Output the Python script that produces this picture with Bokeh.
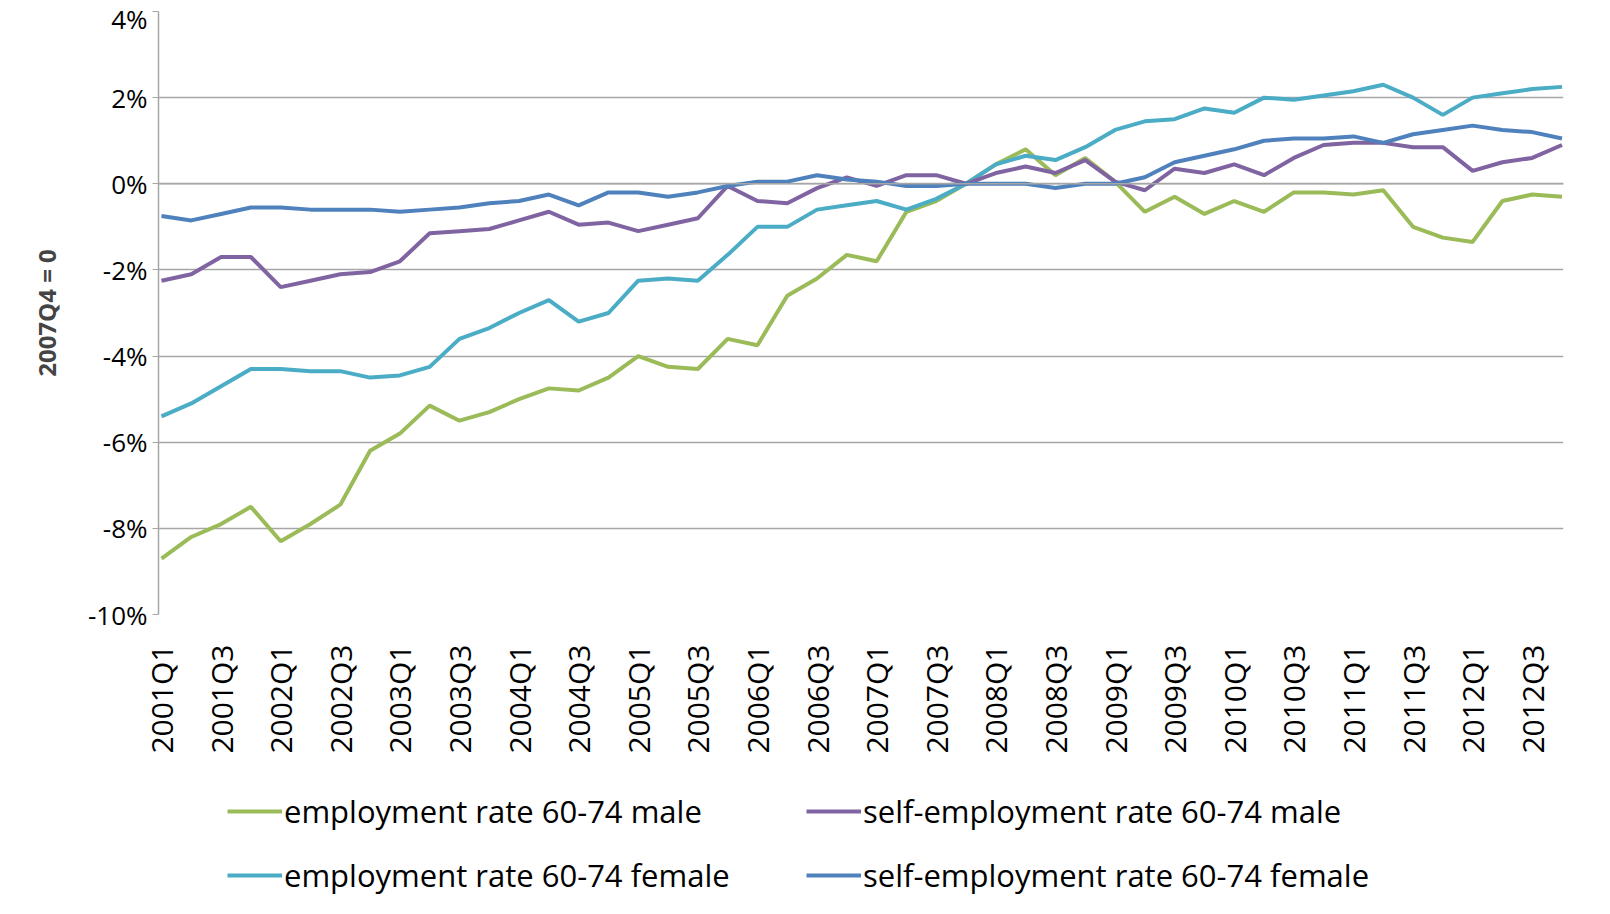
from bokeh.plotting import figure
from bokeh.models import Range1d, FixedTicker, Legend, LegendItem, Span
from bokeh.layouts import column
from bokeh.embed import file_html
from bokeh.resources import INLINE
import math

quarters = [f"{y}Q{q}" for y in range(2001, 2013) for q in range(1, 5)]

emp_male = [-8.7, -8.2, -7.9, -7.5, -8.3, -7.9, -7.45, -6.2, -5.8, -5.15, -5.5, -5.3,
            -5.0, -4.75, -4.8, -4.5, -4.0, -4.25, -4.3, -3.6, -3.75, -2.6, -2.2, -1.65,
            -1.8, -0.65, -0.4, 0.0, 0.45, 0.8, 0.2, 0.6, 0.05, -0.65, -0.3, -0.7,
            -0.4, -0.65, -0.2, -0.2, -0.25, -0.15, -1.0, -1.25, -1.35, -0.4, -0.25, -0.3]
emp_female = [-5.4, -5.1, -4.7, -4.3, -4.3, -4.35, -4.35, -4.5, -4.45, -4.25, -3.6, -3.35,
              -3.0, -2.7, -3.2, -3.0, -2.25, -2.2, -2.25, -1.65, -1.0, -1.0, -0.6, -0.5,
              -0.4, -0.6, -0.35, 0.0, 0.45, 0.65, 0.55, 0.85, 1.25, 1.45, 1.5, 1.75,
              1.65, 2.0, 1.95, 2.05, 2.15, 2.3, 2.0, 1.6, 2.0, 2.1, 2.2, 2.25]
self_male = [-2.25, -2.1, -1.7, -1.7, -2.4, -2.25, -2.1, -2.05, -1.8, -1.15, -1.1, -1.05,
             -0.85, -0.65, -0.95, -0.9, -1.1, -0.95, -0.8, -0.05, -0.4, -0.45, -0.1, 0.15,
             -0.05, 0.2, 0.2, 0.0, 0.25, 0.4, 0.25, 0.55, 0.05, -0.15, 0.35, 0.25,
             0.45, 0.2, 0.6, 0.9, 0.95, 0.95, 0.85, 0.85, 0.3, 0.5, 0.6, 0.9]
self_female = [-0.75, -0.85, -0.7, -0.55, -0.55, -0.6, -0.6, -0.6, -0.65, -0.6, -0.55, -0.45,
               -0.4, -0.25, -0.5, -0.2, -0.2, -0.3, -0.2, -0.05, 0.05, 0.05, 0.2, 0.1,
               0.05, -0.05, -0.05, 0.0, 0.0, 0.0, -0.1, 0.0, 0.0, 0.15, 0.5, 0.65,
               0.8, 1.0, 1.05, 1.05, 1.1, 0.95, 1.15, 1.25, 1.35, 1.25, 1.2, 1.05]

FONT = "Open Sans"
idx = list(range(len(quarters)))

p = figure(frame_width=1405, frame_height=603, output_backend="svg", toolbar_location=None,
           x_range=Range1d(-0.1, 47.05), y_range=Range1d(-10, 4),
           min_border_left=158, min_border_right=20, min_border_top=11, min_border_bottom=0)
p.outline_line_color = None
p.background_fill_color = "white"

p.xgrid.grid_line_color = None
p.ygrid.grid_line_color = "#a6a6a6"
p.ygrid.grid_line_width = 1.5
p.yaxis.ticker = FixedTicker(ticks=[-10, -8, -6, -4, -2, 0, 2, 4])
p.yaxis.major_label_overrides = {v: f"{v}%" for v in [-10, -8, -6, -4, -2, 0, 2, 4]}
p.yaxis.major_label_text_font = FONT
p.yaxis.major_label_text_font_size = "26px"
p.yaxis.major_label_text_color = "black"
p.yaxis.axis_line_color = "#a6a6a6"
p.yaxis.axis_line_width = 1.5
p.yaxis.major_tick_line_color = "#a6a6a6"
p.yaxis.major_tick_in = 0
p.yaxis.major_tick_out = 6
p.yaxis.minor_tick_line_color = None
p.yaxis.axis_label = "2007Q4 = 0"
p.yaxis.axis_label_text_font = FONT
p.yaxis.axis_label_text_font_style = "bold"
p.yaxis.axis_label_text_font_size = "24px"
p.yaxis.axis_label_standoff = 22

p.xaxis.ticker = FixedTicker(ticks=idx[::2])
p.xaxis.major_label_overrides = {i: quarters[i] for i in idx[::2]}
p.xaxis.major_label_orientation = math.pi / 2
p.xaxis.major_label_text_font = FONT
p.xaxis.major_label_text_font_size = "30px"
p.xaxis.major_label_text_color = "black"
p.xaxis.axis_line_color = None
p.xaxis.major_tick_line_color = None
p.xaxis.minor_tick_line_color = None
p.xaxis.major_label_standoff = 24

p.add_layout(Span(location=0, dimension="width", line_color="#a6a6a6", line_width=1.5))

series = [("employment rate 60-74 male", emp_male, "#9bbb59"),
          ("employment rate 60-74 female", emp_female, "#4bacc6"),
          ("self-employment rate 60-74 male", self_male, "#8064a2"),
          ("self-employment rate 60-74 female", self_female, "#4f81bd")]

lg = figure(width=1583, height=140, output_backend="svg", toolbar_location=None,
            x_range=Range1d(0, 1), y_range=Range1d(0, 1), min_border=0)
lg.axis.visible = False
lg.grid.visible = False
lg.outline_line_color = None

items = []
for name, vals, col in series:
    p.line(idx, vals, line_color=col, line_width=4)
    r = lg.line([5, 6], [5, 6], line_color=col, line_width=4)
    items.append(LegendItem(label=name, renderers=[r]))

legend = Legend(items=items, orientation="vertical", ncols=2, location=(69, 0),
                label_text_font=FONT, label_text_font_size="31px", label_text_color="black",
                glyph_width=55, label_standoff=2, spacing=22, margin=0, label_width=500,
                border_line_color=None, padding=0, background_fill_alpha=0)
lg.add_layout(legend, "center")

open("out.html", "w").write(file_html(column(p, lg, spacing=0), INLINE))
